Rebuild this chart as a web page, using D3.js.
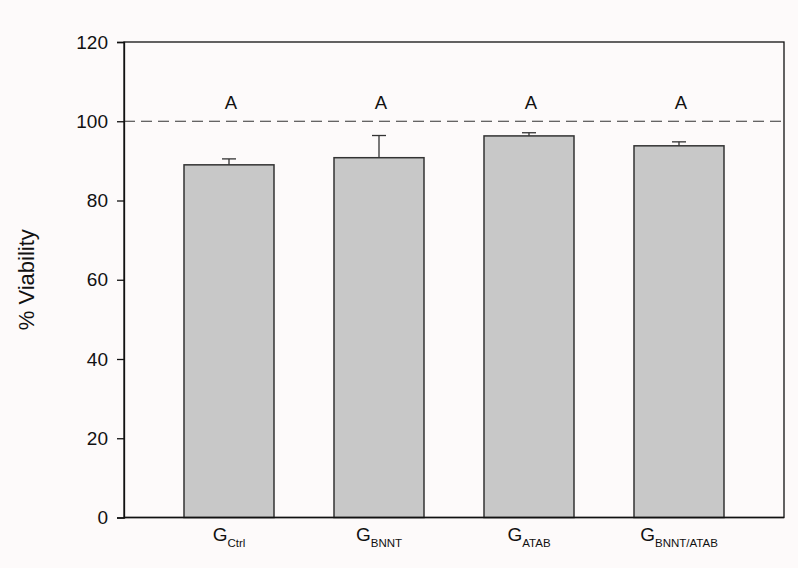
<!DOCTYPE html>
<html>
<head>
<meta charset="utf-8">
<script src="https://cdn.jsdelivr.net/npm/d3@7"></script>
<style>
  html, body { margin: 0; padding: 0; background: #fdfafa; }
  svg { display: block; font-family: "Liberation Sans", Arial, sans-serif; }
</style>
</head>
<body>
<svg id="chart" width="798" height="568"></svg>
<script>
// Groups: main letter plus subscript
const groups = ["Ctrl", "BNNT", "ATAB", "BNNT/ATAB"];
const groupMain = "G";
// Mean viability (%) and upper error (SD)
const means = [89.0, 90.8, 96.3, 93.8];
const errors = [1.5, 5.6, 0.8, 1.0];
// Statistical grouping letters
const letters = ["A", "A", "A", "A"];
const yTicks = [0, 20, 40, 60, 80, 100, 120];
const reference = 100;

const svg = d3.select("#chart");
const margin = { left: 124, right: 798 - 784, top: 42, bottom: 568 - 517.5 };
const W = 798, H = 568;

const x = d3.scaleBand()
  .domain(groups)
  .range([margin.left, W - margin.right])
  .paddingInner(0.4)
  .paddingOuter(0.4);

const y = d3.scaleLinear()
  .domain([0, 120])
  .range([H - margin.bottom, margin.top]);

// Frame (top and right lines)
svg.append("rect")
  .attr("x", margin.left)
  .attr("y", margin.top)
  .attr("width", W - margin.right - margin.left)
  .attr("height", y(0) - margin.top)
  .attr("fill", "none")
  .attr("stroke", "#111")
  .attr("stroke-width", 1.3);

// Reference line at 100%
svg.append("line")
  .attr("x1", margin.left).attr("x2", W - margin.right)
  .attr("y1", y(reference)).attr("y2", y(reference))
  .attr("stroke", "#333")
  .attr("stroke-width", 1.2)
  .attr("stroke-dasharray", "11,6");

// Error bars (upper only)
const eb = svg.append("g");
groups.forEach((g, i) => {
  const cx = x(g) + x.bandwidth() / 2;
  eb.append("line")
    .attr("x1", cx).attr("x2", cx)
    .attr("y1", y(means[i])).attr("y2", y(means[i] + errors[i]))
    .attr("stroke", "#333").attr("stroke-width", 1.3);
  eb.append("line")
    .attr("x1", cx - 7).attr("x2", cx + 7)
    .attr("y1", y(means[i] + errors[i])).attr("y2", y(means[i] + errors[i]))
    .attr("stroke", "#333").attr("stroke-width", 1.3);
});

// Bars
svg.append("g").selectAll("rect")
  .data(groups)
  .join("rect")
  .attr("x", d => x(d))
  .attr("y", (d, i) => y(means[i]))
  .attr("width", x.bandwidth())
  .attr("height", (d, i) => y(0) - y(means[i]))
  .attr("fill", "#c8c8c8")
  .attr("stroke", "#333")
  .attr("stroke-width", 1.5);

// Grouping letters
svg.append("g").selectAll("text")
  .data(groups)
  .join("text")
  .attr("x", d => x(d) + x.bandwidth() / 2 + 2)
  .attr("y", 108.5)
  .attr("text-anchor", "middle")
  .attr("font-size", 18.5)
  .attr("fill", "#111")
  .text((d, i) => letters[i]);

// Y axis
const yAxis = d3.axisLeft(y).tickValues(yTicks).tickSize(7).tickPadding(9);
const ya = svg.append("g")
  .attr("transform", `translate(${margin.left},0)`)
  .call(yAxis);
ya.select(".domain").attr("stroke", "#111").attr("stroke-width", 1.3);
ya.selectAll(".tick line").attr("stroke", "#111").attr("stroke-width", 1.3);
ya.selectAll(".tick text")
  .attr("font-size", 19)
  .attr("font-family", "Liberation Sans, Arial, sans-serif")
  .attr("fill", "#111");

// X axis baseline
svg.append("line")
  .attr("x1", margin.left).attr("x2", W - margin.right)
  .attr("y1", y(0)).attr("y2", y(0))
  .attr("stroke", "#111").attr("stroke-width", 1.3);

// X labels with subscripts
const xl = svg.append("g").selectAll("text")
  .data(groups)
  .join("text")
  .attr("x", d => x(d) + x.bandwidth() / 2)
  .attr("y", 540.5)
  .attr("text-anchor", "middle")
  .attr("fill", "#111");
xl.append("tspan").attr("font-size", 19).text(groupMain);
xl.append("tspan").attr("font-size", 11.5).attr("dy", 6).text(d => d);

// Y title
svg.append("text")
  .attr("transform", `translate(34,${(margin.top + y(0)) / 2}) rotate(-90)`)
  .attr("text-anchor", "middle")
  .attr("font-size", 22)
  .attr("fill", "#111")
  .text("% Viability");
</script>
</body>
</html>
